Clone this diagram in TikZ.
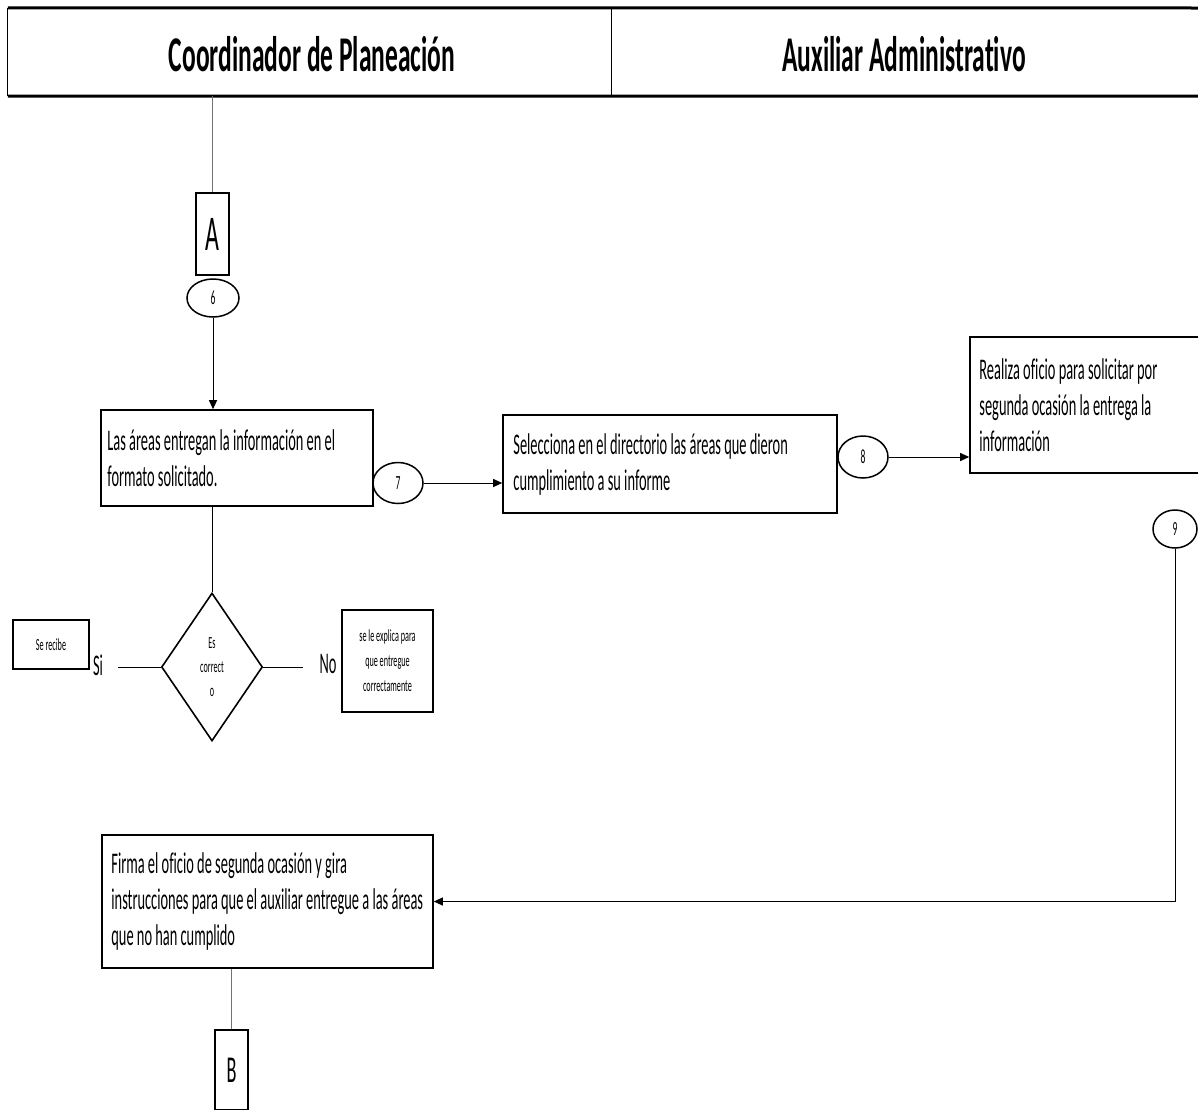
\documentclass[tikz,border=0pt]{standalone}
\usepackage{fontspec}
\setmainfont{Carlito}[FakeStretch=0.48, Ligatures=NoCommon]
\newfontfamily\headfont{Carlito}[FakeStretch=0.51, Ligatures=NoCommon]
\usetikzlibrary{shapes.geometric,arrows.meta}
\begin{document}
\begin{tikzpicture}[x=1pt,y=-1pt,
  box/.style={draw, line width=1.6pt, inner sep=0pt},
  txt/.style={inner sep=0pt, align=left, font=\fontsize{30}{36}\selectfont},
  conn/.style={draw, line width=1pt},
  flow/.style={conn, -{Triangle[length=9pt,width=8pt]}},
  thinline/.style={draw=black!55, line width=0.7pt},
  stepnum/.style={draw, ellipse, line width=1.5pt, inner sep=0pt, font=\fontsize{20}{22}\selectfont},
  headtxt/.style={inner sep=0pt, font=\headfont\bfseries\fontsize{50}{50}\selectfont}
]
\useasboundingbox (0,0) rectangle (1198,1109);
\clip (0,0) rectangle (1198,1109);

% swimlane header
\node[inner sep=0pt, minimum width=603pt, minimum height=88pt] (h1) at (309.5,52) {};
\node[inner sep=0pt, minimum width=587pt, minimum height=88pt] (h2) at (904.5,52) {};
\node[headtxt] (h1t) at (312,54) {Coordinador de Planeación};
\node[headtxt] (h2t) at (904,54) {Auxiliar Administrativo};
\draw[line width=3pt] (h1.north west) -- (1210,8);
\draw[line width=3pt] (h1.south west) -- (1210,96);
\draw[line width=1.2pt] (h1.north west) -- (h1.south west);
\draw[line width=1pt] (h1.north east) -- (h1.south east);

% connector A
\node[box, minimum width=33pt, minimum height=82pt, font=\fontsize{50}{50}\selectfont] (A) at (212.5,234) {A};
\path[thinline] (A.north |- h1.south) -- (A.north);

% step 6 and first task
\node[stepnum, minimum width=52pt, minimum height=38pt] (c6) at (213,298) {6};
\node[box, minimum width=272pt, minimum height=96pt] (b1) at (237,458) {};
\node[txt, anchor=west] (b1t) at ([xshift=7pt]b1.west) {Las áreas entregan la información en el\\formato solicitado.};
\path[flow] (c6.south) -- (c6.south |- b1.north);

% step 7 and second task
\node[stepnum, minimum width=50pt, minimum height=41pt] (c7) at (398,483) {7};
\node[box, minimum width=334pt, minimum height=98pt] (b2) at (670,464) {};
\node[txt, anchor=west] (b2t) at ([xshift=11pt]b2.west) {Selecciona en el directorio las áreas que dieron\\cumplimiento a su informe};
\path[flow] (c7.east) -- (c7.east -| b2.west);

% step 8 and third task
\node[stepnum, minimum width=50pt, minimum height=42pt] (c8) at (863,457) {8};
\node[box, minimum width=260pt, minimum height=136pt] (b3) at (1100,405) {};
\node[txt, anchor=west] (b3t) at ([xshift=10pt]b3.west) {Realiza oficio para solicitar por\\segunda ocasión la entrega la\\información};
\path[flow] (c8.east) -- (c8.east -| b3.west);

% step 9
\node[stepnum, minimum width=44pt, minimum height=38pt] (c9) at (1175,529) {9};

% decision
\node[draw, diamond, line width=1.6pt, inner sep=0pt, minimum width=101pt, minimum height=148pt,
      align=center, font=\fontsize{17}{24}\selectfont] (d) at (212,667) {Es\\correct\\o};
\path[conn] (d.north |- b1.south) -- (d.north);
\coordinate (siend) at (118,667);
\coordinate (noend) at (303,667);
\path[conn] (d.west) -- (siend);
\path[conn] (d.east) -- (noend);
\node[inner sep=0pt, font=\fontsize{30}{32}\selectfont] (si) at (98,665) {Si};
\node[inner sep=0pt, font=\fontsize{30}{32}\selectfont] (no) at (328,664) {No};
\node[box, minimum width=76pt, minimum height=49pt, font=\fontsize{17}{18}\selectfont] (rec) at (51,644.5) {Se recibe};
\node[box, minimum width=91pt, minimum height=102pt, align=center, font=\fontsize{17}{25}\selectfont] (exp) at (387.5,661) {se le explica para\\que entregue\\correctamente};

% fourth task
\node[box, minimum width=331pt, minimum height=133pt] (b4) at (267.5,901.5) {};
\node[txt, anchor=west] (b4t) at ([xshift=10pt]b4.west) {Firma el oficio de segunda ocasión y gira\\instrucciones para que el auxiliar entregue a las áreas\\que no han cumplido};
\path[flow] (c9.south) |- (b4.east);

% connector B
\node[box, minimum width=33pt, minimum height=80pt, font=\fontsize{38}{38}\selectfont] (B) at (231.5,1070) {B};
\path[thinline] (B.north |- b4.south) -- (B.north);
\end{tikzpicture}
\end{document}
